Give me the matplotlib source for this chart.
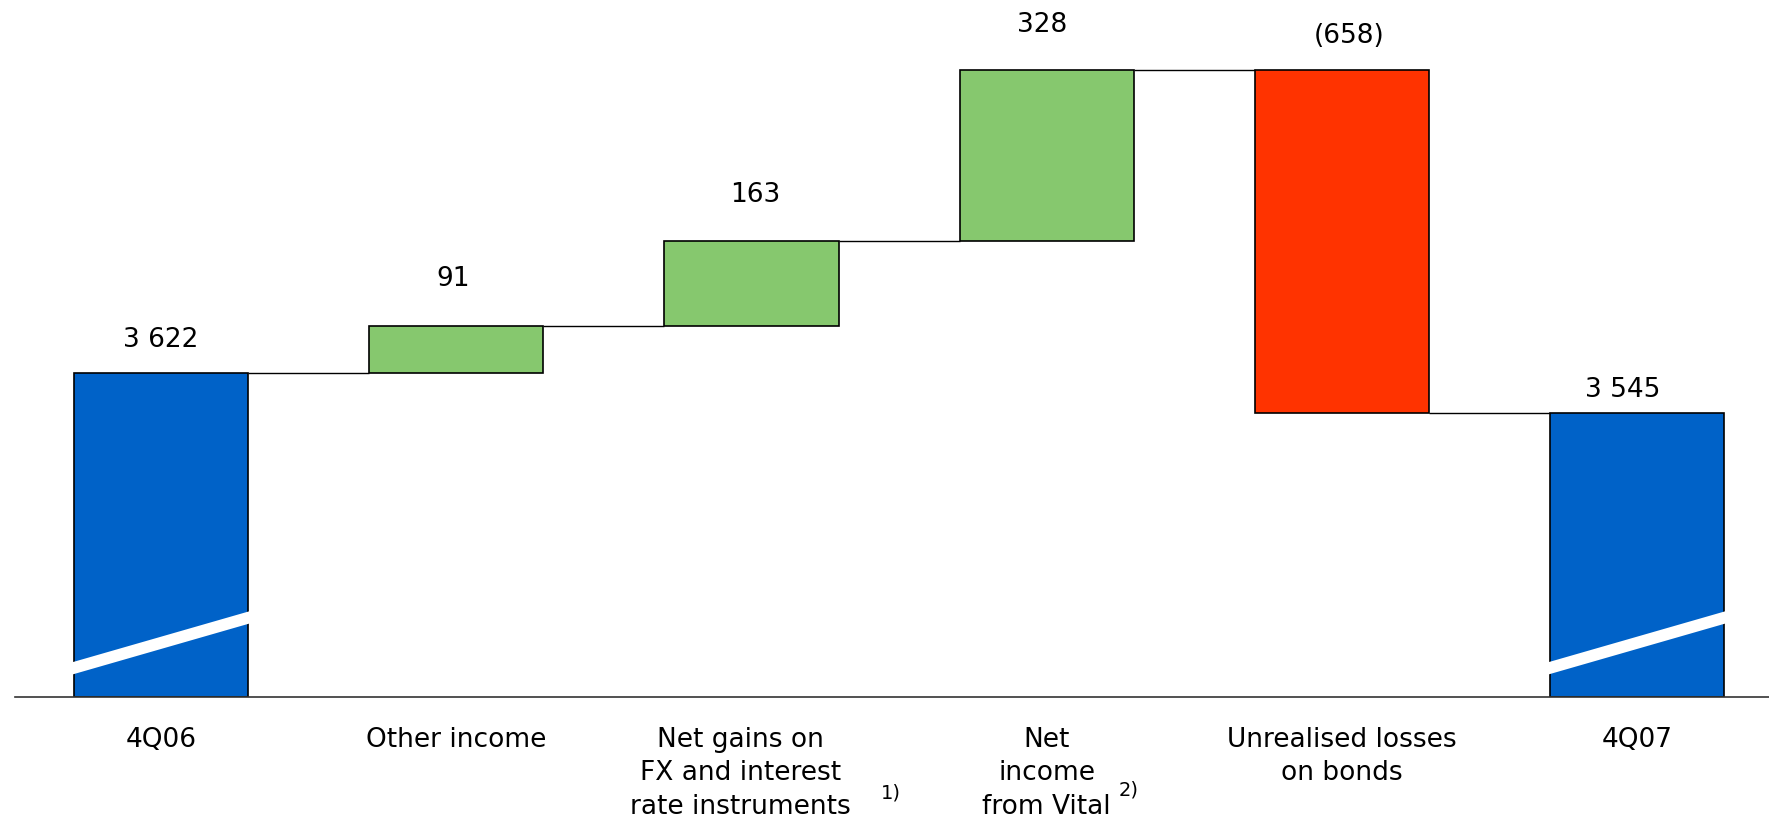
import numpy as np
import matplotlib.pyplot as plt

# Net interest income bridge, 4Q06 -> 4Q07
categories = ["4Q06", "Other income", "Net gains on\nFX and interest\nrate instruments",
              "Net\nincome\nfrom Vital", "Unrealised losses\non bonds", "4Q07"]
start_value = 3622
changes = [91, 163, 328, -658]
end_value = 3545
footnotes = ["", "", "1)", "2)", "", ""]

AXIS_FLOOR = 3000
BLUE = "#0062C8"
GREEN = "#86C86E"
RED = "#FF3300"


def fmt(v):
    s = f"{abs(v):,}".replace(",", " ")
    return f"({s})" if v < 0 else s


def draw_bridge():
    plt.rcParams['font.family'] = ['DejaVu Sans']
    fig = plt.figure(figsize=(17.69, 8.19), dpi=100)
    ax = fig.add_axes([15 / 1769, 122 / 819, 1 - 15 / 1769, 697 / 819])

    x = np.arange(len(categories))
    width = 0.59

    # bottoms and heights for the floating bars
    totals = np.cumsum([start_value] + changes)
    bottoms = [AXIS_FLOOR]
    heights = [start_value - AXIS_FLOOR]
    colors = [BLUE]
    for prev, ch in zip(totals[:-1], changes):
        bottoms.append(min(prev, prev + ch))
        heights.append(abs(ch))
        colors.append(GREEN if ch > 0 else RED)
    bottoms.append(AXIS_FLOOR)
    heights.append(end_value - AXIS_FLOOR)
    colors.append(BLUE)

    ax.bar(x, heights, width, bottom=bottoms, color=colors,
           edgecolor="black", linewidth=1.2, zorder=2)

    # connectors between consecutive bars
    for i, lvl in enumerate(totals):
        ax.hlines(lvl, x[i] + width / 2, x[i + 1] - width / 2,
                  color="black", linewidth=1.0, zorder=1)

    # axis-break marks on the total bars
    for i in (0, len(x) - 1):
        ax.plot([x[i] - width / 2 - 0.03, x[i] + width / 2 + 0.03],
                [3051, 3157], color="white", linewidth=8.5,
                solid_capstyle="butt", zorder=3)

    # value labels
    label_vals = [start_value] + changes + [end_value]
    tops = [b + h for b, h in zip(bottoms, heights)]
    gaps = [24, 33.5, 32.5, 32.5, 24.5, 16.5]
    dx = [0, -2, 3, -3, 5, -10]
    for i, v in enumerate(label_vals):
        ax.annotate(fmt(v), (x[i], tops[i]), xytext=(dx[i], gaps[i]),
                    textcoords="offset points", ha="center", va="center",
                    fontsize=19)

    # category labels under the baseline
    cat_dx = [0, 0, -8, 0, 0, 0]
    for i, c in enumerate(categories):
        ax.annotate(c, (x[i], 0), xycoords=("data", "axes fraction"),
                    xytext=(cat_dx[i], -21.5), textcoords="offset points",
                    ha="center", va="top", fontsize=19, linespacing=1.38)
    sup_pos = {2: (2.473, -69), 3: (3.276, -67)}
    for i, (sx, sy) in sup_pos.items():
        ax.annotate(footnotes[i], (sx, 0), xycoords=("data", "axes fraction"),
                    xytext=(0, sy), textcoords="offset points",
                    ha="center", va="center", fontsize=14)

    ax.set_xlim(-0.495, 5.447)
    ax.set_ylim(AXIS_FLOOR, AXIS_FLOOR + 697 / 0.521)
    for side in ("top", "right", "left"):
        ax.spines[side].set_visible(False)
    ax.spines["bottom"].set_linewidth(1.2)
    ax.spines["bottom"].set_color("#333333")
    ax.set_xticks([])
    ax.set_yticks([])

    fig.savefig("out.png", dpi=100)


if __name__ == "__main__":
    draw_bridge()
